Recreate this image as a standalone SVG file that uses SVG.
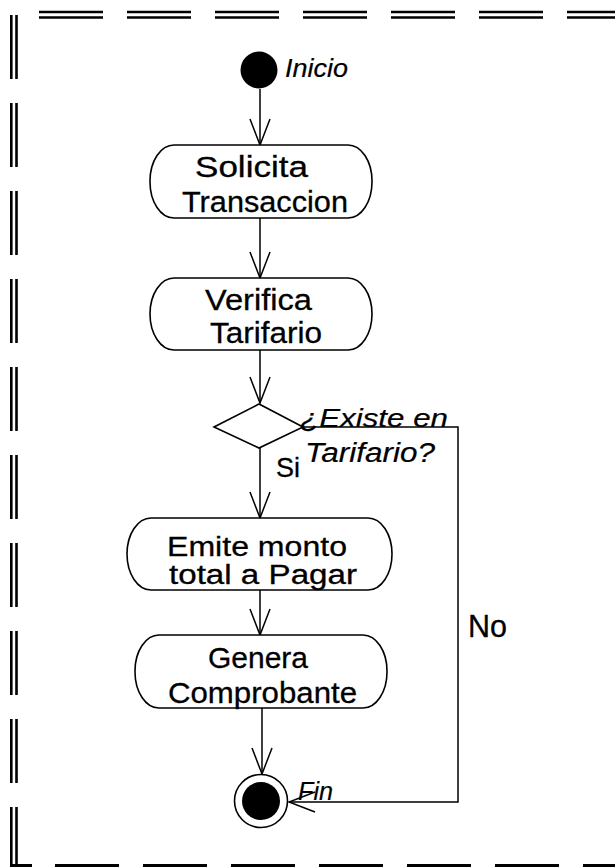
<svg xmlns="http://www.w3.org/2000/svg" width="615" height="867" viewBox="0 0 615 867">
<style>
.bd{stroke:#000;stroke-width:2.6;fill:none;stroke-dasharray:64 24}
.nd{fill:#fff;stroke:#000;stroke-width:1.6}
.cn{fill:none;stroke:#000;stroke-width:1.5}
.t{font-family:"Liberation Sans",Arial,sans-serif;font-size:30px;fill:#000;stroke:#000;stroke-width:0.3}
.i{font-family:"Liberation Sans",Arial,sans-serif;font-style:italic;font-size:26px;fill:#000;stroke:#000;stroke-width:0.2}
</style>
<defs>
<marker id="ar" viewBox="-28 -12 30 24" markerWidth="30" markerHeight="24" refX="0" refY="0" orient="auto" markerUnits="userSpaceOnUse">
<path d="M-26,-10 L0,0 L-26,10" fill="none" stroke="#000" stroke-width="1.5"/>
</marker>
</defs>
<rect width="615" height="867" fill="#fff"/>
<g id="border">
<line class="bd" x1="39" y1="12" x2="615" y2="12"/>
<line class="bd" x1="39" y1="17.5" x2="615" y2="17.5"/>
<line class="bd" x1="11.3" y1="15" x2="11.3" y2="867"/>
<line class="bd" x1="16.5" y1="15" x2="16.5" y2="867"/>
<line class="bd" x1="55" y1="865.5" x2="615" y2="865.5" style="stroke-width:3"/>
<line x1="10" y1="865.5" x2="32" y2="865.5" stroke="#000" stroke-width="3"/>
</g>
<g id="connectors">
<path class="cn" d="M260,89 V145" marker-end="url(#ar)"/>
<path class="cn" d="M260,218 V278" marker-end="url(#ar)"/>
<path class="cn" d="M260,350 V403" marker-end="url(#ar)"/>
<path class="cn" d="M260,448 V518" marker-end="url(#ar)"/>
<path class="cn" d="M260,590 V635" marker-end="url(#ar)"/>
<path class="cn" d="M262,708 V774" marker-end="url(#ar)"/>
<path class="cn" d="M303,427 H458 V802 H289" marker-end="url(#ar)"/>
<text class="t" x="276" y="477" style="font-size:28px" textLength="24" lengthAdjust="spacingAndGlyphs">Si</text>
<text class="t" x="468" y="637" style="font-size:31px" textLength="39" lengthAdjust="spacingAndGlyphs">No</text>
</g>
<g id="inicio">
<circle cx="259" cy="70" r="18.5" fill="#000"/>
<text class="i" x="285" y="77" style="font-size:25px" textLength="63" lengthAdjust="spacingAndGlyphs">Inicio</text>
</g>
<g id="solicita">
<rect class="nd" x="150" y="145" width="222" height="73" rx="24" ry="36"/>
<text class="t" x="195" y="177" textLength="113" lengthAdjust="spacingAndGlyphs">Solicita</text>
<text class="t" x="182" y="212" textLength="166" lengthAdjust="spacingAndGlyphs">Transaccion</text>
</g>
<g id="verifica">
<rect class="nd" x="150" y="278" width="222" height="72" rx="24" ry="36"/>
<text class="t" x="205" y="310" textLength="107" lengthAdjust="spacingAndGlyphs">Verifica</text>
<text class="t" x="210" y="343" textLength="112" lengthAdjust="spacingAndGlyphs">Tarifario</text>
</g>
<g id="decision">
<polygon class="nd" points="214,427 259,404 303,427 259,448"/>
<text class="i" x="300" y="427" textLength="148" lengthAdjust="spacingAndGlyphs">¿Existe en</text>
<text class="i" x="305" y="462" style="font-size:27px" textLength="130" lengthAdjust="spacingAndGlyphs">Tarifario?</text>
</g>
<g id="emite">
<rect class="nd" x="127" y="518" width="265" height="72" rx="24" ry="36"/>
<text class="t" x="167" y="556" style="font-size:27px" textLength="180" lengthAdjust="spacingAndGlyphs">Emite monto</text>
<text class="t" x="169" y="584" style="font-size:27px" textLength="188" lengthAdjust="spacingAndGlyphs">total a Pagar</text>
</g>
<g id="genera">
<rect class="nd" x="135" y="635" width="252" height="73" rx="24" ry="36"/>
<text class="t" x="208" y="668" textLength="100" lengthAdjust="spacingAndGlyphs">Genera</text>
<text class="t" x="168" y="703" textLength="189" lengthAdjust="spacingAndGlyphs">Comprobante</text>
</g>
<g id="fin">
<circle cx="261" cy="801" r="26.5" fill="#fff" stroke="#000" stroke-width="1.6"/>
<circle cx="261" cy="801" r="19" fill="#000"/>
<text class="i" x="298" y="800" style="font-size:25px" textLength="35" lengthAdjust="spacingAndGlyphs">Fin</text>
</g>
</svg>
